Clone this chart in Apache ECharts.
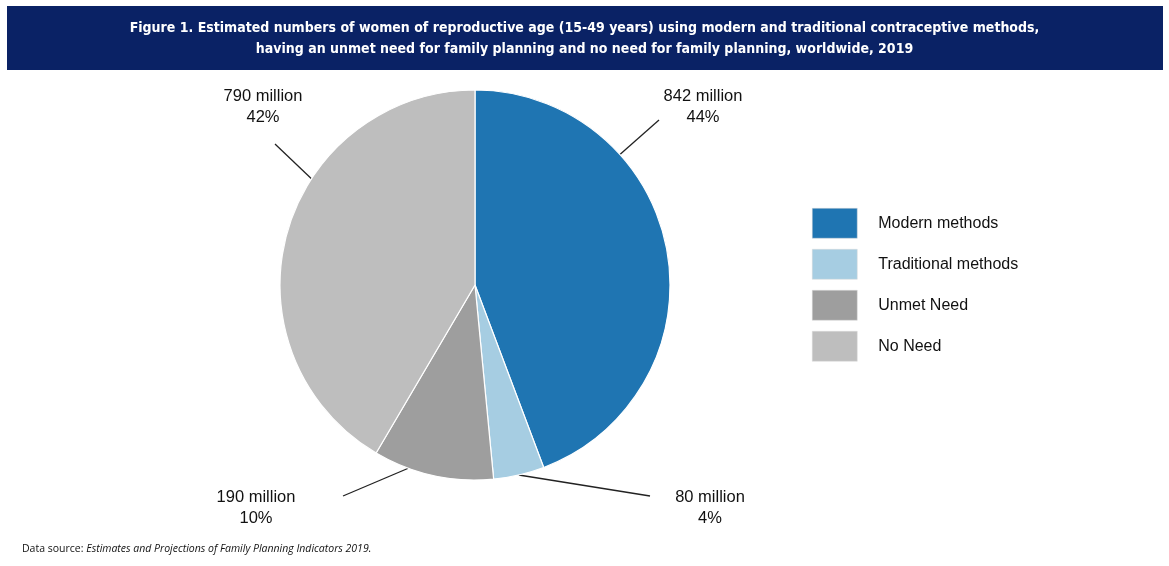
<!DOCTYPE html>
<html>
<head>
<meta charset="utf-8">
<script src="https://cdn.jsdelivr.net/npm/echarts@6/dist/echarts.min.js"></script>
<style>
  html, body { margin: 0; padding: 0; background: #fff; }
  #chart { width: 1169px; height: 566px; }
</style>
</head>
<body>
<div id="chart"></div>
<script>
// data
const categories = ['Modern methods', 'Traditional methods', 'Unmet Need', 'No Need']
const millions = [842, 80, 190, 790]
const percents = [44, 4, 10, 42]
const colors = ['#1f75b2', '#a6cde2', '#9e9e9e', '#bebebe']

// label layout: centre of text block, where leader line leaves the pie (deg clockwise from top), line end
const pieCenter = [475, 285]
const pieRadius = 195
const labelPos = [[703, 107], [710, 508], [256, 508], [263, 107]]
const lineAngle = [48, 167, 200, 303]
const lineEnd = [[659, 120], [650, 496], [343, 496], [275, 144]]

let chart = echarts.init(document.getElementById('chart'))

let pieData = []
for (let i in categories) {
  pieData.push({
    name: categories[i],
    value: millions[i],
    itemStyle: { color: colors[i] }
  })
}

chart.setOption({
  animation: false,
  graphic: [
    {
      type: 'rect',
      left: 7, top: 6,
      shape: { width: 1156, height: 64 },
      style: { fill: '#0a2265' }
    },
    {
      type: 'text',
      left: 'center', top: 18,
      style: {
        text: 'Figure 1. Estimated numbers of women of reproductive age (15-49 years) using modern and traditional contraceptive methods,\nhaving an unmet need for family planning and no need for family planning, worldwide, 2019',
        fill: '#fff',
        font: 'bold 14px "Liberation Sans Narrow", "DejaVu Sans Condensed", sans-serif',
        textAlign: 'center',
        lineHeight: 21
      }
    },
    {
      type: 'text',
      left: 22, top: 544,
      style: {
        rich: {
          n: { fontFamily: 'Open Sans', fontSize: 10.5, fill: '#111' },
          i: { fontFamily: 'Open Sans', fontSize: 10.5, fontStyle: 'italic', fill: '#111' }
        },
        text: '{n|Data source: }{i|Estimates and Projections of Family Planning Indicators 2019.}'
      }
    }
  ],
  legend: {
    orient: 'vertical',
    left: 812,
    top: 208,
    padding: 0,
    itemWidth: 45,
    itemHeight: 30,
    itemGap: 10.5,
    icon: 'rect',
    selectedMode: false,
    data: categories,
    textStyle: {
      fontFamily: 'Liberation Sans',
      fontSize: 16,
      color: '#111',
      padding: [0, 0, 0, 16]
    },
    itemStyle: { borderColor: '#d8d8d8', borderWidth: 0.5 }
  },
  series: [{
    type: 'pie',
    center: pieCenter,
    radius: pieRadius,
    startAngle: 90,
    clockwise: true,
    data: pieData,
    itemStyle: { borderColor: '#fff', borderWidth: 1.2 },
    label: {
      show: true,
      position: 'outside',
      formatter: function (p) {
        return p.value + ' million\n' + percents[p.dataIndex] + '%'
      },
      fontFamily: 'Liberation Sans',
      fontSize: 16.5,
      lineHeight: 21,
      color: '#111',
      align: 'center'
    },
    labelLine: {
      show: true,
      length: 30,
      length2: 0,
      lineStyle: { color: '#222', width: 1.3 }
    },
    labelLayout: function (params) {
      let i = params.dataIndex
      let a = lineAngle[i] * Math.PI / 180
      let start = [pieCenter[0] + pieRadius * Math.sin(a), pieCenter[1] - pieRadius * Math.cos(a)]
      return {
        x: labelPos[i][0],
        y: labelPos[i][1],
        align: 'center',
        verticalAlign: 'middle',
        labelLinePoints: [start, lineEnd[i]]
      }
    },
    emphasis: { disabled: true }
  }]
})
</script>
</body>
</html>
